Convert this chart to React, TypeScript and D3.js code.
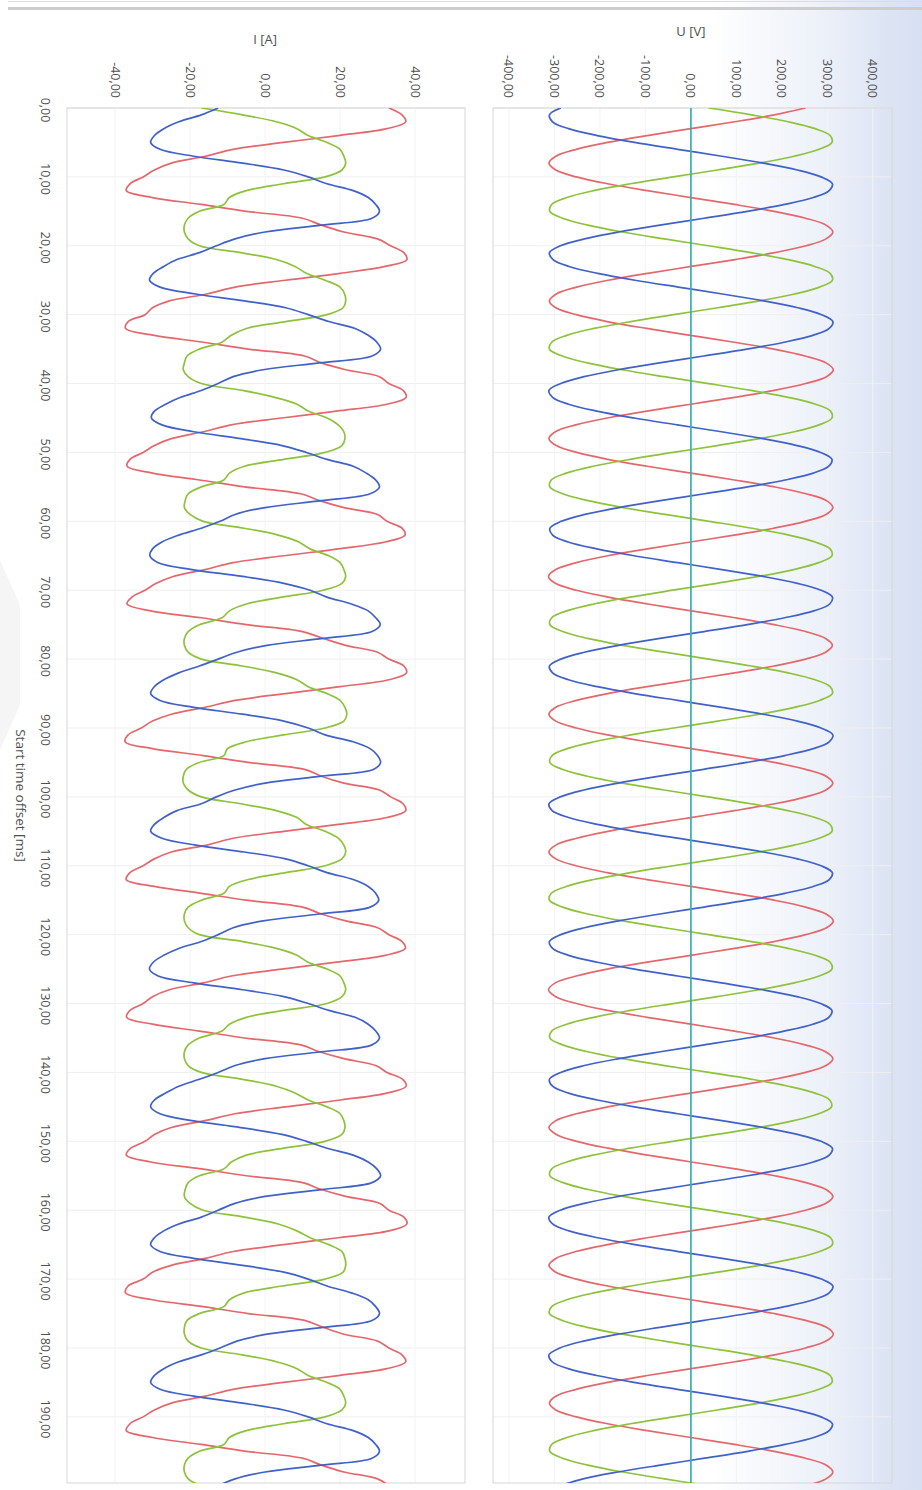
import React from 'react';
import * as d3 from 'd3';

// ---------- data ----------
const SAMPLE_STEP_MS = 1; // sample spacing of the waveform arrays
const NEUTRAL_STEP_MS = 10;

const timeTicks = [0, 10, 20, 30, 40, 50, 60, 70, 80, 90, 100, 110, 120, 130, 140, 150, 160, 170, 180, 190];
const currentTicks = [-40, -20, 0, 20, 40];
const voltageTicks = [-400, -300, -200, -100, 0, 100, 200, 300, 400];

// U [V] phase voltages, one sample per ms (0..200 ms)
const voltageL1 = [
  252, 183, 96, 0, -96, -183, -252, -297, -312, -297, -252, -183, -96, 0, 96, 183, 252, 297, 312, 297,
  253, 184, 97, 1, -95, -182, -251, -296, -311, -297, -252, -184, -97, -1, 95, 182, 251, 297, 313, 298,
  252, 183, 96, 0, -97, -184, -253, -298, -312, -296, -251, -183, -96, 0, 96, 184, 253, 298, 312, 297,
  251, 182, 95, -1, -96, -183, -252, -297, -313, -298, -252, -182, -95, 1, 97, 183, 252, 296, 311, 296,
  252, 183, 96, 0, -96, -183, -252, -297, -312, -297, -252, -183, -96, 0, 96, 183, 252, 297, 312, 297,
  253, 184, 96, 0, -95, -182, -251, -297, -312, -297, -253, -184, -97, 0, 95, 183, 252, 297, 313, 298,
  252, 183, 96, 0, -96, -184, -252, -298, -313, -297, -252, -183, -96, 0, 96, 183, 251, 296, 312, 297,
  252, 182, 95, -1, -97, -183, -252, -297, -312, -296, -251, -182, -95, 1, 97, 184, 253, 297, 312, 297,
  252, 183, 96, 0, -96, -183, -253, -297, -312, -297, -252, -183, -96, 0, 96, 183, 252, 298, 313, 297,
  252, 184, 97, 1, -96, -183, -252, -297, -311, -297, -252, -183, -96, 0, 96, 183, 252, 297, 312, 297,
  252,
];
const voltageL2 = [
  39, 133, 214, 273, 306, 310, 282, 227, 150, 58, -39, -133, -214, -273, -306, -310, -282, -227, -150, -58,
  38, 132, 213, 272, 306, 311, 283, 228, 151, 59, -38, -132, -213, -273, -306, -311, -283, -228, -151, -59,
  39, 133, 214, 274, 307, 310, 282, 227, 150, 58, -39, -134, -215, -274, -307, -310, -282, -226, -149, -57,
  40, 134, 215, 273, 306, 310, 281, 226, 149, 57, -40, -133, -214, -273, -306, -310, -282, -227, -150, -58,
  39, 133, 214, 273, 306, 311, 283, 228, 151, 59, -38, -132, -213, -272, -305, -310, -283, -228, -151, -59,
  38, 132, 213, 273, 306, 310, 282, 227, 150, 58, -39, -133, -214, -274, -307, -311, -282, -227, -150, -58,
  39, 133, 214, 273, 306, 310, 282, 227, 150, 58, -39, -133, -214, -273, -306, -310, -282, -227, -150, -58,
  40, 134, 214, 273, 305, 309, 281, 226, 149, 57, -40, -134, -215, -273, -306, -310, -281, -226, -149, -57,
  39, 133, 214, 274, 307, 311, 283, 228, 151, 59, -38, -132, -213, -273, -306, -311, -283, -228, -151, -59,
  38, 132, 213, 273, 306, 310, 282, 227, 150, 58, -39, -133, -214, -273, -306, -310, -282, -227, -150, -58,
  39,
];
const voltageL3 = [
  -286, -311, -304, -269, -206, -124, -29, 68, 159, 234, 286, 311, 304, 269, 206, 124, 29, -68, -159, -234,
  -287, -311, -303, -268, -205, -123, -28, 69, 160, 235, 287, 312, 304, 268, 205, 123, 28, -69, -160, -235,
  -286, -312, -304, -269, -207, -125, -30, 67, 158, 233, 285, 310, 303, 269, 207, 125, 30, -67, -158, -233,
  -285, -310, -304, -270, -207, -125, -29, 68, 159, 234, 286, 311, 305, 270, 206, 124, 29, -68, -159, -234,
  -286, -311, -304, -269, -206, -124, -29, 68, 159, 234, 286, 312, 304, 269, 206, 123, 28, -69, -160, -235,
  -287, -312, -305, -269, -206, -124, -29, 68, 159, 234, 286, 311, 304, 269, 206, 124, 29, -68, -159, -234,
  -286, -311, -304, -269, -206, -124, -29, 67, 158, 233, 285, 310, 303, 268, 205, 124, 30, -67, -158, -234,
  -286, -311, -304, -269, -206, -124, -29, 68, 159, 234, 286, 311, 304, 269, 206, 124, 29, -68, -159, -234,
  -287, -312, -304, -268, -205, -123, -28, 69, 160, 235, 287, 312, 304, 269, 206, 124, 29, -68, -160, -236,
  -288, -312, -305, -270, -207, -125, -30, 67, 158, 233, 286, 311, 304, 270, 207, 125, 30, -67, -160, -237,
  -288,
];
// neutral voltage, one sample per 10 ms
const voltageN = [0, 0, 0, 0, 0, 0, 0, 0, 0, 0, 0, 0, 0, 0, 0, 0, 0, 0, 0, 0, 0];

// I [A] phase currents, one sample per ms (0..200 ms)
const currentL1 = [
  33, 36.5, 37.5, 32.5, 19.5, 5, -8.5, -16, -25, -29.5, -32.5, -36, -37, -30, -17, -5, 10, 15, 21, 30,
  33.5, 37, 37.8, 32, 20, 5.5, -8, -15.5, -25.5, -30, -32, -36.5, -37.2, -29.5, -16.5, -4.5, 10.5, 15, 21.5, 30.5,
  33, 36.8, 37.6, 32.5, 19, 4.5, -9, -16.5, -25, -29.5, -32.5, -36, -36.8, -30, -17.5, -5.5, 9.5, 14.5, 21, 30,
  32.5, 36.5, 37.3, 32, 19.5, 5, -8.5, -16, -24.5, -29, -32, -35.5, -36.8, -30.5, -17, -5, 10, 15.5, 21.5, 30,
  33, 37, 37.7, 33, 20, 5.5, -8, -16, -25, -30, -33, -36.5, -37.3, -30, -16.5, -4.5, 10.5, 15, 21, 30.5,
  33.5, 36.8, 37.5, 32.5, 19.5, 5, -8.5, -15.5, -25, -29.5, -32.5, -36, -37, -29.5, -17, -5, 10, 15, 21.5, 30,
  33, 36.5, 37.4, 32, 19, 4.5, -9, -16.5, -25.5, -30, -32.5, -36, -36.9, -30, -17.5, -5.5, 9.5, 14.5, 21, 29.5,
  32.5, 36.7, 37.6, 32.5, 20, 5.5, -8, -16, -25, -29.5, -32, -35.8, -37, -30.5, -17, -5, 10, 15, 21.5, 30.5,
  33, 37, 37.8, 33, 19.5, 5, -8.5, -16, -25, -30, -32.5, -36.5, -37.2, -30, -16.5, -4.5, 10.5, 15.5, 21, 30,
  33, 36.5, 37.5, 32.5, 19.5, 5, -8.5, -16, -25, -29.5, -32.5, -36, -37, -30, -17, -5, 10, 15, 21, 30,
  33,
];
const currentL2 = [
  -17, -6, 3, 8.5, 11.5, 16.5, 20, 21, 21.5, 20.5, 16, 5, -5, -9.5, -11, -17.5, -20.5, -21.5, -21.5, -20.5,
  -17.5, -6.5, 3, 8, 11, 16, 20, 21.2, 21.5, 20.8, 16.5, 5.5, -5, -9, -11.5, -17.5, -20.8, -21.5, -21.8, -20.5,
  -17, -6, 2.5, 8.5, 11.5, 16.5, 19.5, 21, 21.3, 20.5, 16, 5, -5.5, -9.5, -11, -17, -20.5, -21.3, -21.5, -20,
  -16.5, -5.5, 3.5, 9, 12, 17, 20, 21, 21.5, 20.5, 15.5, 4.5, -5, -9.5, -11.5, -17.5, -20.5, -21.5, -21.5, -20.5,
  -17, -6, 3, 8.5, 11.5, 16.5, 20, 21.3, 21.8, 21, 16, 5, -5, -10, -11, -17.5, -21, -21.8, -21.8, -20.5,
  -17, -6.5, 3, 8.5, 11, 16, 19.5, 21, 21.5, 20.5, 16, 5.5, -4.5, -9.5, -11, -17, -20.5, -21.5, -21.5, -20.5,
  -17.5, -6, 3, 8.5, 11.5, 16.5, 20, 21, 21.5, 20.5, 16.5, 5, -5, -9.5, -11.5, -17.5, -20.5, -21.5, -21.5, -20.5,
  -17, -6, 3, 8, 11.5, 16.5, 20, 21, 21.3, 20.5, 16, 5, -5, -9, -11, -17.5, -20.5, -21.3, -21.5, -20,
  -16.5, -5.5, 3.5, 8.5, 12, 17, 20.5, 21.3, 21.5, 20.8, 16, 4.5, -5.5, -9.5, -11, -17.5, -20.8, -21.5, -21.5, -20.5,
  -17, -6, 3, 8.5, 11.5, 16.5, 20, 21, 21.5, 20.5, 16, 5, -5, -9.5, -11, -17.5, -20.5, -21.5, -21.5, -20.5,
  -17,
];
const currentL3 = [
  -12.5, -17, -23, -27, -29.5, -30.5, -28, -19, -6, 5, 11.5, 16.5, 23.5, 27.5, 29.5, 30.5, 28.5, 15, 0, -8,
  -13, -17.5, -23.5, -27, -29.8, -30.8, -28, -18.5, -5.5, 5.5, 11.5, 17, 24, 27.5, 29.8, 30.8, 28.5, 14.5, -0.5, -8.5,
  -12.5, -17, -22.5, -26.5, -29.5, -30.3, -27.5, -19, -6.5, 4.5, 11, 16.5, 23.5, 27, 29.5, 30.5, 28, 15, 0, -8,
  -12, -17, -23, -27.5, -30, -30.7, -28.5, -19.5, -6, 5, 12, 16.5, 23, 27.5, 29.5, 30.7, 28.5, 15.5, 0.5, -7.5,
  -12.5, -17.5, -23, -27, -29.5, -30.5, -28, -19, -6, 5, 11.5, 16, 23.5, 28, 30, 30.8, 29, 15, 0, -8,
  -13, -17, -23.5, -27, -29.5, -30.5, -27.5, -18.5, -5.5, 5.5, 11.5, 16.5, 23.5, 27.5, 29.5, 30.3, 28, 14.5, -0.5, -8.5,
  -12.5, -17, -23, -27, -29.8, -30.8, -28.5, -19, -6, 5, 11.5, 17, 24, 27.5, 29.5, 30.5, 28.5, 15, 0, -8,
  -12.5, -17.5, -23, -26.5, -29.5, -30.5, -28, -19.5, -6.5, 4.5, 11, 16.5, 23.5, 27.5, 29.8, 30.8, 28.5, 15, 0, -8,
  -12.5, -17, -23, -27, -29.5, -30.5, -28, -19, -6, 5, 11.5, 16.5, 23, 27.5, 29.5, 30.5, 28.5, 15.5, 0.5, -7.5,
  -12, -17, -23, -27, -29.5, -30.5, -28, -19, -6, 5, 11.5, 16.5, 23.5, 27.5, 29.5, 30.5, 28.5, 15, 0, -8,
  -12.5,
];

const COLORS = { l1: '#e4676c', l2: '#8ec23b', l3: '#4061c8', n: '#36b0b6' };

// ---------- layout ----------
const W = 922;
const H = 1490;
const PLOT_TOP = 108;
const PLOT_BOTTOM = 1483;
const I_LEFT = 67;
const I_RIGHT = 465;
const U_LEFT = 493;
const U_RIGHT = 892;
const FONT = "'Open Sans', 'Noto Sans', sans-serif";
const LABEL_COLOR = '#4f4f4f';

const fmt = (v: number) => d3.format('.2f')(v).replace('.', ',').replace('−', '-');

export default function App() {
  const tScale = d3.scaleLinear().domain([0, 199.6]).range([PLOT_TOP, PLOT_BOTTOM]);
  const iScale = d3.scaleLinear().domain([-52.8, 53.3]).range([I_LEFT, I_RIGHT]);
  const uScale = d3.scaleLinear().domain([-435, 442]).range([U_LEFT, U_RIGHT]);

  const mkLine = (xs: d3.ScaleLinear<number, number>, step: number) =>
    d3
      .line<number>()
      .x((v) => xs(v))
      .y((_, i) => tScale(i * step))
      .curve(d3.curveCatmullRom.alpha(0.5));

  const iLine = mkLine(iScale, SAMPLE_STEP_MS);
  const uLine = mkLine(uScale, SAMPLE_STEP_MS);
  const nLine = mkLine(uScale, NEUTRAL_STEP_MS);

  const panels = [
    { key: 'i', left: I_LEFT, right: I_RIGHT, scale: iScale, ticks: currentTicks, title: 'I [A]', titleY: 39 },
    { key: 'u', left: U_LEFT, right: U_RIGHT, scale: uScale, ticks: voltageTicks, title: 'U [V]', titleY: 31 },
  ];

  return (
    <svg
      width={W}
      height={H}
      viewBox={`0 0 ${W} ${H}`}
      style={{ position: 'absolute', left: 0, top: 0, display: 'block', background: '#ffffff' }}
    >
      <defs>
        <linearGradient id="bgGrad" x1="0" y1="0" x2="1" y2="0">
          <stop offset="0" stopColor="#ffffff" />
          <stop offset="0.77" stopColor="#ffffff" />
          <stop offset="0.89" stopColor="#edf1f9" />
          <stop offset="0.965" stopColor="#dce4f4" />
          <stop offset="1" stopColor="#d7e0f2" />
        </linearGradient>
        <clipPath id="clipI">
          <rect x={I_LEFT} y={PLOT_TOP} width={I_RIGHT - I_LEFT} height={PLOT_BOTTOM - PLOT_TOP} />
        </clipPath>
        <clipPath id="clipU">
          <rect x={U_LEFT} y={PLOT_TOP} width={U_RIGHT - U_LEFT} height={PLOT_BOTTOM - PLOT_TOP} />
        </clipPath>
      </defs>

      <rect x={0} y={0} width={W} height={H} fill="url(#bgGrad)" />
      {/* faint watermark wedge at the left edge */}
      <polygon points="0,560 20,605 20,705 0,750" fill="#f5f5f5" />

      {/* top frame lines */}
      <line x1={8} x2={W} y1={1.5} y2={1.5} stroke="#dcdcdc" strokeWidth={1} />
      <rect x={8} y={7} width={W - 8} height={3} fill="#cdcdcd" />

      {panels.map((p) => (
        <g key={p.key}>
          {/* grid */}
          {timeTicks.map((t) => (
            <line key={`tg${t}`} x1={p.left} x2={p.right} y1={tScale(t)} y2={tScale(t)} stroke="#efefef" strokeWidth={1} />
          ))}
          {p.ticks.map((v) => (
            <line key={`vg${v}`} x1={p.scale(v)} x2={p.scale(v)} y1={PLOT_TOP} y2={PLOT_BOTTOM} stroke="#f3f3f3" strokeWidth={1} />
          ))}
          {/* frame */}
          <rect
            x={p.left}
            y={PLOT_TOP}
            width={p.right - p.left}
            height={PLOT_BOTTOM - PLOT_TOP}
            fill="none"
            stroke="#d6d6d6"
            strokeWidth={1}
          />
          {/* value tick labels */}
          {p.ticks.map((v) => (
            <text
              key={`vl${v}`}
              transform={`translate(${p.scale(v)},98) rotate(90)`}
              textAnchor="end"
              dominantBaseline="central"
              fontFamily={FONT}
              fontSize={12.5}
              fill={LABEL_COLOR}
            >
              {fmt(v)}
            </text>
          ))}
          <text
            x={p.scale(0)}
            y={p.titleY}
            textAnchor="middle"
            dominantBaseline="central"
            fontFamily={FONT}
            fontSize={13}
            fill={LABEL_COLOR}
          >
            {p.title}
          </text>
        </g>
      ))}

      {/* time axis labels */}
      {timeTicks.map((t) => (
        <text
          key={`tl${t}`}
          transform={`translate(45,${tScale(t) + 2}) rotate(90)`}
          textAnchor="middle"
          dominantBaseline="central"
          fontFamily={FONT}
          fontSize={12.5}
          fill={LABEL_COLOR}
        >
          {fmt(t)}
        </text>
      ))}
      <text
        transform={`translate(21,${(PLOT_TOP + PLOT_BOTTOM) / 2}) rotate(90)`}
        textAnchor="middle"
        dominantBaseline="central"
        fontFamily={FONT}
        fontSize={13.5}
        fill={LABEL_COLOR}
      >
        Start time offset [ms]
      </text>

      {/* current traces */}
      <g clipPath="url(#clipI)" fill="none" strokeWidth={1.7} strokeLinejoin="round">
        <path d={iLine(currentL1) || ''} stroke={COLORS.l1} />
        <path d={iLine(currentL2) || ''} stroke={COLORS.l2} />
        <path d={iLine(currentL3) || ''} stroke={COLORS.l3} />
      </g>

      {/* voltage traces */}
      <g clipPath="url(#clipU)" fill="none" strokeWidth={1.7} strokeLinejoin="round">
        <path d={uLine(voltageL1) || ''} stroke={COLORS.l1} />
        <path d={uLine(voltageL2) || ''} stroke={COLORS.l2} />
        <path d={uLine(voltageL3) || ''} stroke={COLORS.l3} />
        <path d={nLine(voltageN) || ''} stroke={COLORS.n} />
      </g>
    </svg>
  );
}
